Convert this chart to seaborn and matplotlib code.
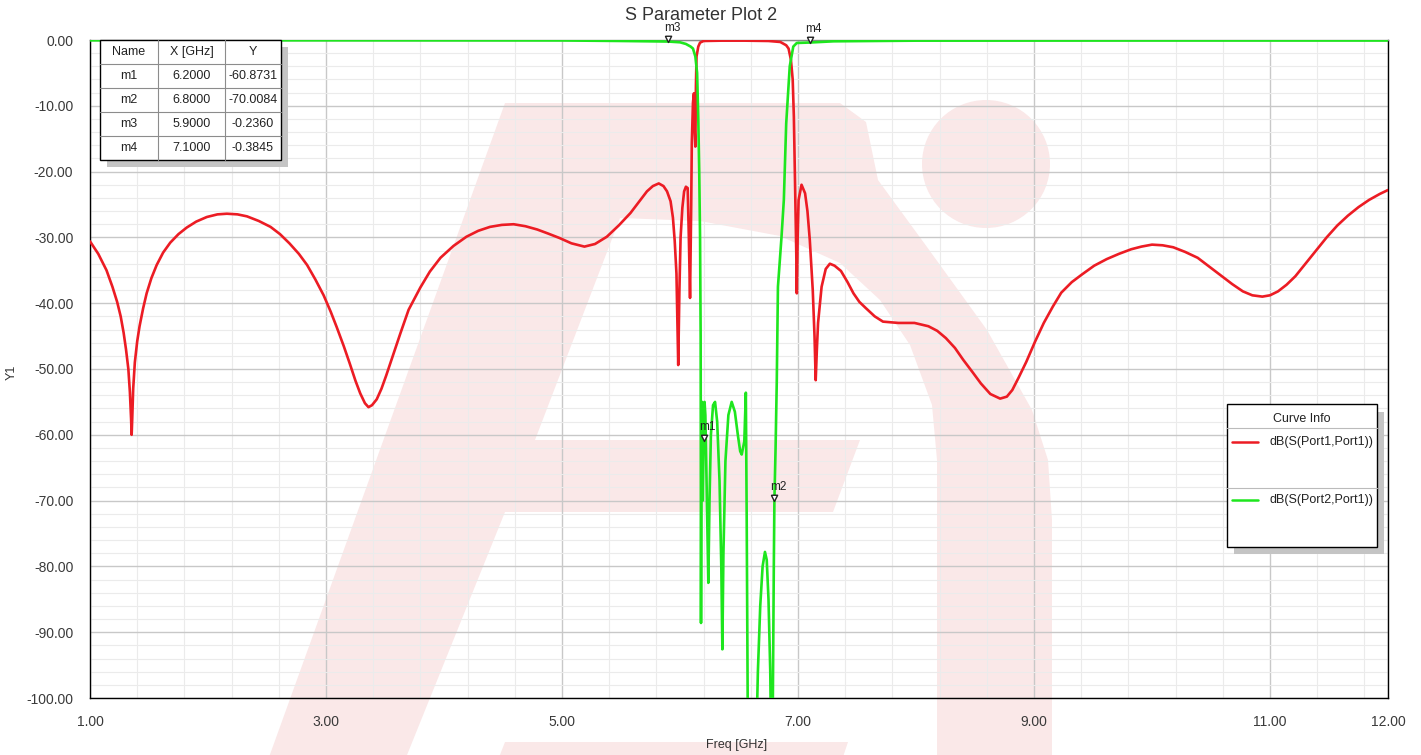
import numpy as np
import pandas as pd
import matplotlib
matplotlib.use("Agg")
import matplotlib.pyplot as plt
import seaborn as sns
from matplotlib.patches import Polygon, Circle, Rectangle

# dB(S(Port1,Port1))
s11_freq = [1.00, 1.07, 1.14, 1.19, 1.23, 1.26, 1.285, 1.305, 1.325, 1.338, 1.348, 1.353,
            1.358, 1.366, 1.38, 1.40, 1.42, 1.45, 1.48, 1.52, 1.565, 1.62, 1.68, 1.75,
            1.82, 1.90, 1.99, 2.08, 2.16, 2.25, 2.33, 2.43, 2.53, 2.61, 2.69, 2.77,
            2.84, 2.91, 2.98, 3.04, 3.09, 3.15, 3.20, 3.25, 3.29, 3.33, 3.36, 3.39,
            3.43, 3.47, 3.51, 3.57, 3.63, 3.70, 3.80, 3.88, 3.97, 4.08, 4.19, 4.29,
            4.39, 4.49, 4.59, 4.69, 4.79, 4.88, 4.98, 5.08, 5.19, 5.28, 5.38, 5.48,
            5.58, 5.66, 5.72, 5.77, 5.82, 5.86, 5.89, 5.92, 5.94, 5.955, 5.97, 5.985,
            5.995, 6.005, 6.02, 6.035, 6.05, 6.065, 6.075, 6.085, 6.095, 6.10, 6.11, 6.118,
            6.125, 6.13, 6.135, 6.14, 6.155, 6.17, 6.20, 6.35, 6.55, 6.75, 6.85, 6.90,
            6.92, 6.94, 6.955, 6.965, 6.975, 6.985, 6.99, 6.997, 7.005, 7.03, 7.06, 7.08,
            7.10, 7.125, 7.14, 7.15, 7.16, 7.17, 7.20, 7.235, 7.27, 7.31, 7.364, 7.42,
            7.47, 7.52, 7.572, 7.65, 7.72, 7.85, 7.987, 8.105, 8.18, 8.253, 8.33, 8.40,
            8.48, 8.55, 8.63, 8.713, 8.77, 8.816, 8.87, 8.935, 9.01, 9.083, 9.16, 9.231,
            9.32, 9.409, 9.51, 9.616, 9.72, 9.824, 9.91, 10.00, 10.09, 10.18, 10.28, 10.387,
            10.49, 10.594, 10.68, 10.77, 10.85, 10.935, 11.00, 11.068, 11.14, 11.215, 11.30, 11.39,
            11.48, 11.57, 11.66, 11.75, 11.84, 11.93, 12.00]
s11_db = [-30.6, -32.5, -35.0, -37.5, -39.8, -42.0, -44.5, -47.0, -50.0, -53.5, -57.5, -60.0,
          -57.5, -53.0, -49.0, -45.8, -43.5, -40.8, -38.5, -36.2, -34.2, -32.3, -30.8, -29.5,
          -28.5, -27.6, -26.9, -26.5, -26.4, -26.5, -26.8, -27.5, -28.4, -29.5, -30.9, -32.5,
          -34.2, -36.4, -38.8, -41.3, -43.6, -46.5, -49.1, -51.8, -53.7, -55.2, -55.8, -55.5,
          -54.6, -53.0, -51.0, -47.8, -44.6, -41.0, -37.6, -35.2, -33.1, -31.3, -29.9, -29.0,
          -28.4, -28.1, -28.0, -28.3, -28.8, -29.4, -30.1, -30.9, -31.4, -31.0, -29.9, -28.2,
          -26.3, -24.4, -23.0, -22.2, -21.8, -22.2, -23.0, -24.5, -27.0, -30.5, -35.5, -49.4,
          -38.0, -30.0, -25.5, -23.0, -22.3, -22.5, -30.0, -39.2, -25.0, -15.7, -9.5, -8.1,
          -14.0, -16.2, -7.0, -2.5, -1.0, -0.4, -0.15, -0.1, -0.1, -0.15, -0.3, -0.8,
          -1.3, -3.0, -6.0, -11.7, -22.0, -32.0, -38.5, -30.0, -24.3, -22.0, -23.3, -26.0,
          -30.4, -38.0, -45.0, -51.7, -47.0, -43.0, -37.5, -34.8, -34.0, -34.3, -35.1, -36.8,
          -38.5, -39.8, -40.7, -42.0, -42.8, -43.0, -43.0, -43.5, -44.2, -45.3, -46.8, -48.6,
          -50.5, -52.2, -53.8, -54.5, -54.2, -53.2, -51.3, -48.9, -45.8, -43.0, -40.5, -38.4,
          -36.8, -35.6, -34.3, -33.3, -32.5, -31.8, -31.4, -31.1, -31.2, -31.5, -32.2, -33.1,
          -34.5, -35.9, -37.1, -38.2, -38.8, -39.0, -38.8, -38.2, -37.2, -35.9, -34.0, -32.0,
          -30.0, -28.2, -26.7, -25.4, -24.3, -23.4, -22.8]

# dB(S(Port2,Port1))
s21_freq = [1.00, 2.00, 3.00, 4.00, 5.00, 5.50, 5.90, 6.00, 6.05, 6.09, 6.11, 6.13,
            6.145, 6.155, 6.163, 6.17, 6.175, 6.178, 6.183, 6.187, 6.193, 6.200, 6.208, 6.215,
            6.226, 6.240, 6.250, 6.262, 6.280, 6.297, 6.315, 6.335, 6.350, 6.359, 6.368, 6.385,
            6.410, 6.438, 6.465, 6.490, 6.510, 6.523, 6.545, 6.558, 6.565, 6.575, 6.600, 6.630,
            6.650, 6.660, 6.680, 6.700, 6.720, 6.735, 6.750, 6.765, 6.777, 6.785, 6.795, 6.800,
            6.810, 6.820, 6.830, 6.860, 6.880, 6.900, 6.930, 6.960, 6.990, 7.100, 7.30, 8.00,
            10.00, 12.00]
s21_db = [-0.05, -0.05, -0.05, -0.06, -0.07, -0.15, -0.236, -0.35, -0.6, -1.0, -1.3, -2.5,
          -5.0, -12.0, -20.0, -30.0, -45.0, -88.6, -56.0, -55.0, -70.0, -60.87, -55.0, -57.0,
          -68.0, -82.5, -70.0, -60.0, -55.5, -55.0, -58.0, -67.0, -80.0, -92.6, -78.0, -64.0,
          -57.0, -55.0, -56.5, -60.0, -62.5, -63.0, -61.0, -53.6, -72.0, -105.0, -125.0, -120.0,
          -104.0, -96.0, -86.0, -80.0, -77.8, -79.0, -85.0, -96.0, -115.0, -105.0, -80.0, -70.0,
          -62.0, -52.0, -37.5, -30.0, -24.3, -12.7, -4.0, -1.0, -0.45, -0.3845, -0.2, -0.1,
          -0.08, -0.08]

trace_names = ["dB(S(Port1,Port1))", "dB(S(Port2,Port1))"]
trace_colors = ["#ec1c24", "#1ee61e"]

marker_names = ["m1", "m2", "m3", "m4"]
marker_x = [6.2, 6.8, 5.9, 7.1]
marker_y = [-60.8731, -70.0084, -0.2360, -0.3845]

x_ticks = [1, 3, 5, 7, 9, 11, 12]
y_ticks = [0, -10, -20, -30, -40, -50, -60, -70, -80, -90, -100]

W, H = 1421, 755

sns.set_style("white")
plt.rcParams["font.family"] = ["Liberation Sans", "DejaVu Sans"]

fig = plt.figure(figsize=(W / 100, H / 100), dpi=100)
fig.patch.set_facecolor("white")


def pixel_axes(z):
    a = fig.add_axes([0, 0, 1, 1], zorder=z)
    a.set_xlim(0, W)
    a.set_ylim(H, 0)
    a.axis("off")
    a.patch.set_alpha(0)
    return a


# watermark logo behind the plot
wm = pixel_axes(0)
pink = "#fae8e8"
logo = [(268, 760), (505, 103), (840, 103), (866, 122), (878, 180), (927, 247), (987, 330),
        (1032, 410), (1048, 460), (1052, 520), (1052, 760), (937, 760), (937, 460), (932, 405),
        (910, 345), (880, 300), (840, 263), (780, 236), (700, 221), (620, 218), (535, 440),
        (860, 440), (833, 512), (505, 512), (405, 760)]
wm.add_patch(Polygon(logo, closed=True, fc=pink, ec="none"))
wm.add_patch(Polygon([(505, 742), (848, 742), (842, 760), (498, 760)], closed=True, fc=pink, ec="none"))
wm.add_patch(Circle((986, 164), 64, fc=pink, ec="none"))

# main plot
ax = fig.add_axes([90 / W, 1 - 698 / H, (1388 - 90) / W, (698 - 40) / H], zorder=1)
ax.set_facecolor("none")

df11 = pd.DataFrame({"Freq": s11_freq, "dB": s11_db})
df21 = pd.DataFrame({"Freq": s21_freq, "dB": s21_db})
sns.lineplot(data=df11, x="Freq", y="dB", ax=ax, color=trace_colors[0], lw=1.9,
             estimator=None, sort=False, zorder=3)
sns.lineplot(data=df21, x="Freq", y="dB", ax=ax, color=trace_colors[1], lw=1.9,
             estimator=None, sort=False, zorder=4)

ax.set_xlim(1, 12)
ax.set_ylim(-100, 0)
ax.set_xticks(x_ticks)
ax.set_xticklabels([f"{t:.2f}" for t in x_ticks])
ax.set_xticks(np.arange(1, 12.01, 0.4), minor=True)
ax.set_yticks(y_ticks)
ax.set_yticklabels([f"{t:.2f}" for t in y_ticks])
ax.set_yticks(np.arange(-100, 0.1, 2), minor=True)

ax.grid(which="minor", color="#ebebeb", lw=0.8, zorder=0)
ax.grid(which="major", color="#c8c8c8", lw=1.0, zorder=0)
ax.set_axisbelow(True)

ax.tick_params(which="major", direction="out", length=7, width=1, color="black",
               labelsize=10, labelcolor="#3a3a3a", pad=5)
ax.tick_params(which="minor", direction="out", length=3.5, width=1, color="black")
for s in ["left", "bottom", "right"]:
    ax.spines[s].set_color("black")
    ax.spines[s].set_linewidth(1)
ax.spines["top"].set_color("#888888")
ax.spines["top"].set_linewidth(1)

ax.set_xlabel("Freq [GHz]", fontsize=9, color="#333333")
ax.set_ylabel("Y1", fontsize=9, color="#333333")
ax.xaxis.set_label_coords((737 - 90) / 1298, -(739 - 698) / 658)
ax.yaxis.set_label_coords(-(90 - 18) / 1298, (698 - 372) / 658)

# markers: triangle tip sits on the trace value
tri = [(-1, 2), (1, 2), (0, 0), (-1, 2)]
for name, mx, my in zip(marker_names, marker_x, marker_y):
    ax.plot([mx], [my], marker=tri, ms=9, mfc="white", mec="#222222", mew=1,
            ls="none", clip_on=False, zorder=6)
    ax.annotate(name, (mx, my), xytext=(-3, 5.5), textcoords="offset points",
                fontsize=8.5, color="#222222", ha="left", va="bottom", zorder=6,
                annotation_clip=False)

fig.text(701 / W, 1 - 16 / H, "S Parameter Plot 2", ha="center", va="center",
         fontsize=13, color="#333333")

# overlays: marker table and curve info box
ov = pixel_axes(5)

col_edges = [100, 158, 225, 281]
row_edges = [40, 64, 88, 112, 136, 160]
ov.add_patch(Rectangle((107, 47), 181, 120, fc="#c4c4c4", ec="none"))
ov.add_patch(Rectangle((100, 40), 181, 120, fc="white", ec="black", lw=1))
for xe in col_edges[1:-1]:
    ov.plot([xe, xe], [40, 160], color="#8c8c8c", lw=0.8)
for ye in row_edges[1:-1]:
    ov.plot([100, 281], [ye, ye], color="#8c8c8c", lw=0.8)

rows = [["Name", "X [GHz]", "Y"]]
for name, mx, my in zip(marker_names, marker_x, marker_y):
    rows.append([name, f"{mx:.4f}", f"{my:.4f}"])
for r, row in enumerate(rows):
    yc = (row_edges[r] + row_edges[r + 1]) / 2
    for c, txt in enumerate(row):
        xc = (col_edges[c] + col_edges[c + 1]) / 2
        ov.text(xc, yc, txt, ha="center", va="center", fontsize=9, color="#222222")

ov.add_patch(Rectangle((1234, 412), 150, 142, fc="#c4c4c4", ec="none"))
ov.add_patch(Rectangle((1227, 404), 150, 143, fc="white", ec="black", lw=1))
ov.text(1302, 419, "Curve Info", ha="center", va="center", fontsize=9, color="#222222")
ov.plot([1227, 1377], [428, 428], color="#bbbbbb", lw=0.8)
ov.plot([1227, 1377], [488, 488], color="#bbbbbb", lw=0.8)
for name, col, ly in zip(trace_names, trace_colors, [442, 500]):
    ov.plot([1232, 1258], [ly, ly], color=col, lw=1.8)
    ov.text(1270, ly, name, ha="left", va="center", fontsize=9, color="#222222")

fig.savefig("out.png", dpi=100)
